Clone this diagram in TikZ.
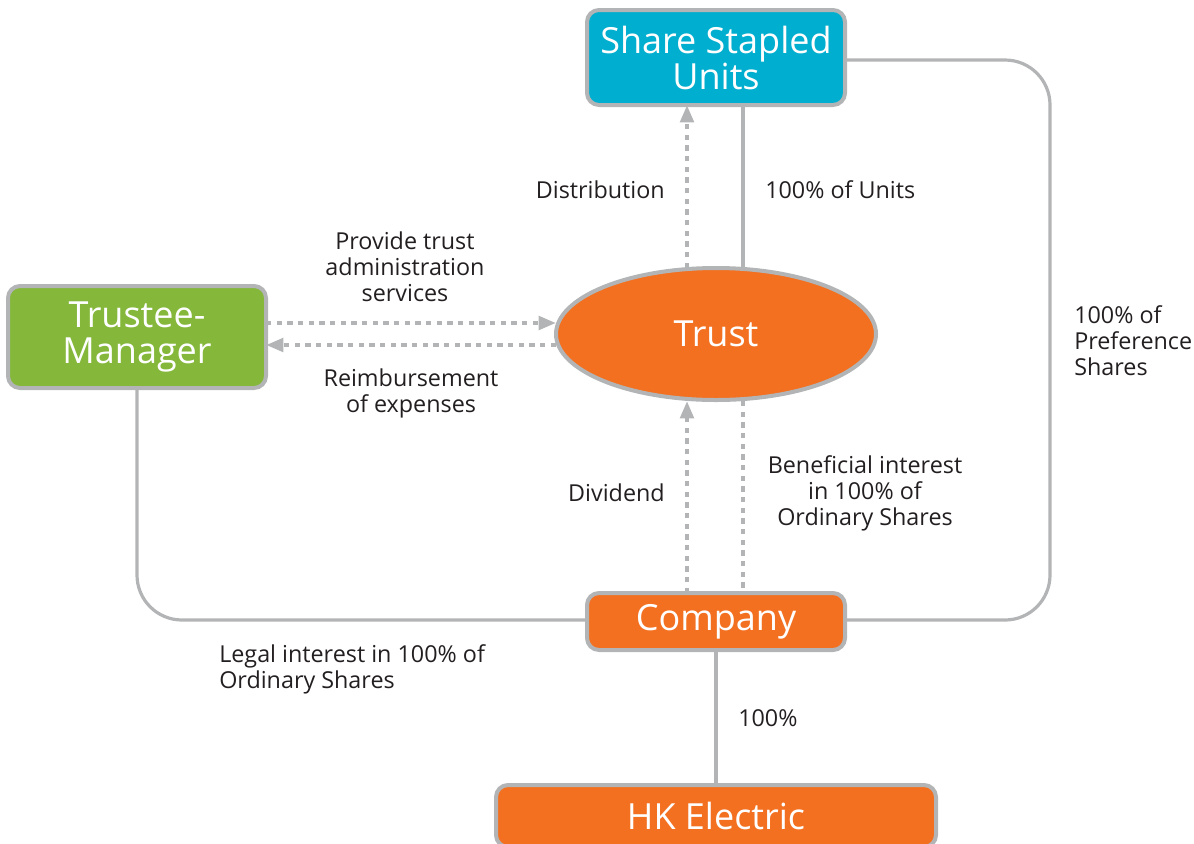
\documentclass[tikz,border=0pt]{standalone}
\usepackage{fontspec}
\setmainfont{Open Sans}
\usetikzlibrary{arrows.meta,positioning,shapes.geometric}
\definecolor{lgray}{HTML}{B3B4B6}
\definecolor{cyanb}{HTML}{00AECF}
\definecolor{greenb}{HTML}{84B73A}
\definecolor{orangeb}{HTML}{F37021}
\definecolor{txt}{HTML}{231F20}
\tikzset{
  box/.style={draw=lgray, line width=3pt, rounded corners=9pt, text=white,
    font=\fontsize{27}{27}\selectfont, align=center, inner sep=0pt},
  conn/.style={draw=lgray, line width=2.4pt},
  dconn/.style={draw=lgray, line width=3pt, dash pattern=on 4pt off 4pt},
  darr/.style={dconn, -{Triangle[length=13pt,width=10pt]}},
  lbl/.style={text=txt, font=\fontsize{17.5}{19.5}\selectfont, inner sep=0pt}
}
\begin{document}
\begin{tikzpicture}[x=0.75pt,y=-0.75pt]
\useasboundingbox (0,0) rectangle (1194,843);
% nodes
\node[box, fill=cyanb, minimum width=258*0.75pt, minimum height=95*0.75pt] (ssu) at (716,57.5) {Share Stapled\\Units};
\node[box, fill=greenb, minimum width=258*0.75pt, minimum height=102*0.75pt] (tm) at (137,337) {Trustee-\\Manager};
\node[ellipse, draw=lgray, line width=3pt, fill=orangeb, text=white, font=\fontsize{27}{27}\selectfont, minimum width=320*0.75pt, minimum height=132*0.75pt, inner sep=0pt] (trust) at (716,334) {Trust};
\node[box, fill=orangeb, minimum width=258*0.75pt, minimum height=57*0.75pt] (co) at (716,621.5) {Company};
\node[box, fill=orangeb, minimum width=440*0.75pt, minimum height=62*0.75pt] (hk) at (716,816) {HK Electric};
% coordinates
\coordinate (ssuA) at (687,105);
\coordinate (ssuB) at (743,105);
\coordinate (trTA) at (687,268);
\coordinate (trTB) at (743,268);
\coordinate (trBA) at (687,401);
\coordinate (trBB) at (743,401);
\coordinate (coTA) at (687,593);
\coordinate (coTB) at (743,593);
\coordinate (tmR1) at (266,323);
\coordinate (tmR2) at (266,345);
\coordinate (trL1) at (556,323);
\coordinate (trL2) at (556,345);
% connectors
\draw[conn] (ssuB) -- (trTB);
\draw[darr] (trTA) -- (ssuA);
\draw[conn, rounded corners=45*0.75pt] (ssu.east |- 0,60) -- (1050,60) -- (1050,620) -- (co.east |- 0,620);
\draw[conn, rounded corners=45*0.75pt] (tm.south) -- (137,620) -- (co.west |- 0,620);
\draw[conn] (co.south) -- (hk.north);
\draw[darr] (tmR1) -- (trL1);
\draw[darr] (trL2) -- (tmR2);
\draw[darr] (coTA) -- (trBA);
\draw[dconn] (trBB) -- (coTB);
% labels
\node[lbl, anchor=east] (l1) at (665,190) {Distribution};
\node[lbl, anchor=west] (l2) at (765,190) {100\% of Units};
\node[lbl, align=left, anchor=west] (l3) at (1074,341) {100\% of\\Preference\\Shares};
\node[lbl, align=center] (l4) at (405,267) {Provide trust\\administration\\services};
\node[lbl, align=center] (l5) at (411,393) {Reimbursement\\of expenses};
\node[lbl, anchor=east] (l6) at (665,493) {Dividend};
\node[lbl, align=center] (l7) at (865,493) {Beneficial interest\\in 100\% of\\Ordinary Shares};
\node[lbl, align=left, anchor=west] (l8) at (219,669) {Legal interest in 100\% of\\Ordinary Shares};
\node[lbl, anchor=west] (l9) at (738,718) {100\%};
\end{tikzpicture}
\end{document}
